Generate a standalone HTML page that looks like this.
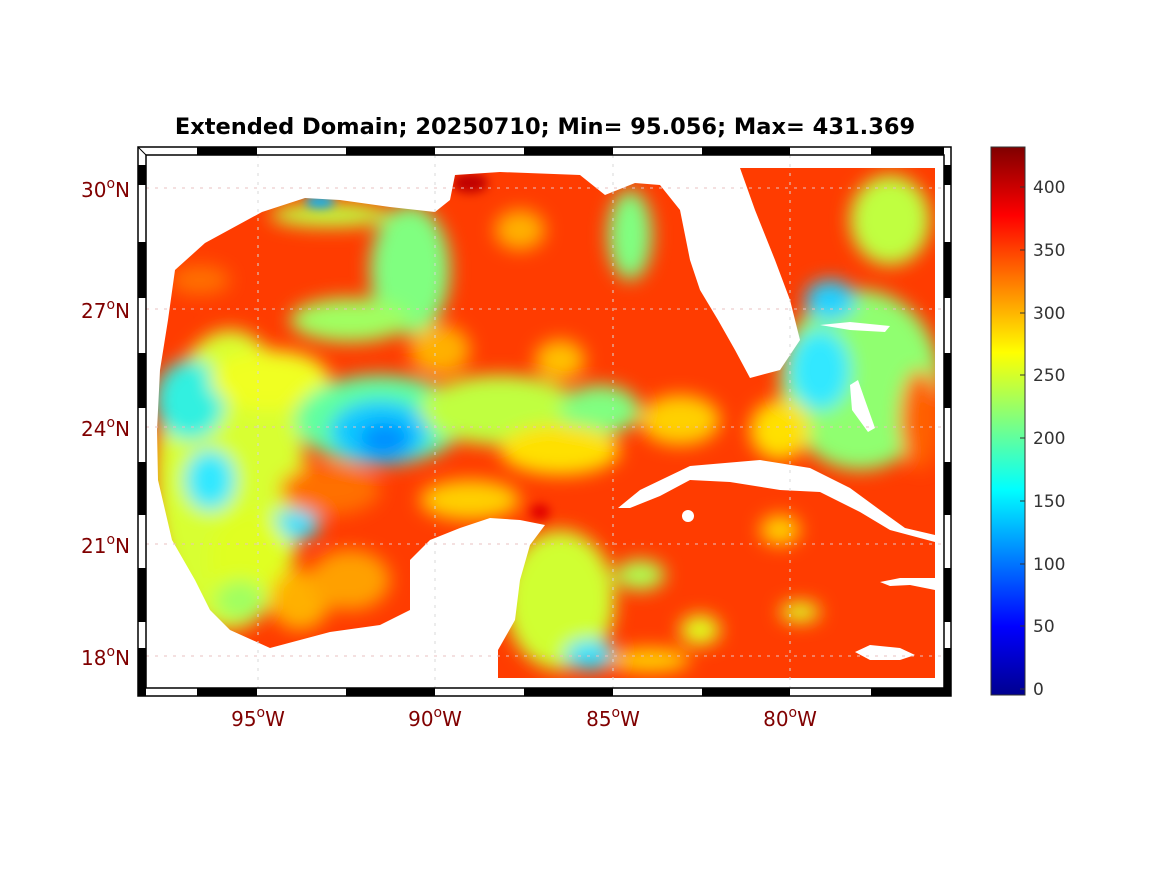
<!DOCTYPE html>
<html><head><meta charset="utf-8"><style>
body{margin:0;background:#fff;}
svg text{font-family:"DejaVu Sans","Liberation Sans",sans-serif;}
</style></head><body>
<svg width="1167" height="875" viewBox="0 0 1167 875" xmlns="http://www.w3.org/2000/svg">
<defs>
<filter id="b" x="-20%" y="-20%" width="140%" height="140%"><feGaussianBlur stdDeviation="9"/></filter>
<filter id="b2" x="-20%" y="-20%" width="140%" height="140%"><feGaussianBlur stdDeviation="5"/></filter>
<clipPath id="c"><rect x="146" y="155" width="798" height="533"/></clipPath>
<linearGradient id="jet" x1="0" y1="1" x2="0" y2="0">
<stop offset="0" stop-color="#00008f"/><stop offset="0.125" stop-color="#0000ff"/>
<stop offset="0.375" stop-color="#00ffff"/><stop offset="0.625" stop-color="#ffff00"/>
<stop offset="0.875" stop-color="#ff0000"/><stop offset="1" stop-color="#800000"/>
</linearGradient>
</defs>
<text x="545" y="134" font-size="22.5" font-weight="bold" text-anchor="middle">Extended Domain; 20250710; Min= 95.056; Max= 431.369</text>
<g clip-path="url(#c)">
<rect x="146" y="155" width="798" height="533" fill="#ff3c00"/>
<g filter="url(#b)">
<ellipse cx="230" cy="480" rx="75" ry="150" fill="#d8ff30"/>
<ellipse cx="190" cy="400" rx="35" ry="40" fill="#30f0e0"/>
<ellipse cx="210" cy="480" rx="25" ry="30" fill="#30e8ff"/>
<ellipse cx="295" cy="525" rx="25" ry="15" fill="#30e0ff"/>
<ellipse cx="250" cy="560" rx="40" ry="50" fill="#e0ff20"/>
<ellipse cx="300" cy="600" rx="30" ry="30" fill="#ffb000"/>
<ellipse cx="350" cy="580" rx="40" ry="30" fill="#ffa000"/>
<ellipse cx="330" cy="490" rx="50" ry="25" fill="#ff7000"/>
<ellipse cx="270" cy="380" rx="60" ry="30" fill="#f0ff20"/>
<ellipse cx="240" cy="600" rx="25" ry="20" fill="#a0ff60"/>
<ellipse cx="410" cy="270" rx="40" ry="65" fill="#80ff80"/>
<ellipse cx="330" cy="215" rx="60" ry="12" fill="#c0ff40"/>
<ellipse cx="350" cy="320" rx="60" ry="22" fill="#a0ff60"/>
<ellipse cx="200" cy="280" rx="30" ry="15" fill="#ff7000"/>
<ellipse cx="380" cy="420" rx="85" ry="45" fill="#60ffa0"/>
<ellipse cx="380" cy="432" rx="50" ry="32" fill="#10c8ff"/>
<ellipse cx="385" cy="440" rx="25" ry="18" fill="#0090ff"/>
<ellipse cx="500" cy="410" rx="80" ry="35" fill="#c0ff40"/>
<ellipse cx="600" cy="410" rx="40" ry="25" fill="#80ff80"/>
<ellipse cx="560" cy="450" rx="60" ry="25" fill="#ffe000"/>
<ellipse cx="470" cy="500" rx="50" ry="20" fill="#ffd000"/>
<ellipse cx="440" cy="350" rx="30" ry="25" fill="#ffb000"/>
<ellipse cx="630" cy="235" rx="22" ry="45" fill="#80ff80"/>
<ellipse cx="560" cy="360" rx="25" ry="20" fill="#ffc000"/>
<ellipse cx="680" cy="420" rx="40" ry="25" fill="#ffd000"/>
<ellipse cx="520" cy="230" rx="25" ry="20" fill="#ffb000"/>
<ellipse cx="860" cy="380" rx="80" ry="90" fill="#90ff70"/>
<ellipse cx="820" cy="370" rx="30" ry="40" fill="#30e8ff"/>
<ellipse cx="830" cy="300" rx="25" ry="20" fill="#20d0ff"/>
<ellipse cx="890" cy="220" rx="40" ry="45" fill="#c0ff40"/>
<ellipse cx="920" cy="420" rx="20" ry="50" fill="#ff6000"/>
<ellipse cx="780" cy="430" rx="30" ry="30" fill="#ffe000"/>
<ellipse cx="560" cy="600" rx="55" ry="70" fill="#d0ff30"/>
<ellipse cx="590" cy="655" rx="25" ry="15" fill="#30e0ff"/>
<ellipse cx="640" cy="575" rx="25" ry="15" fill="#b0ff50"/>
<ellipse cx="700" cy="630" rx="20" ry="15" fill="#e0ff20"/>
<ellipse cx="800" cy="612" rx="20" ry="10" fill="#e0ff20"/>
<ellipse cx="780" cy="530" rx="20" ry="15" fill="#ffd000"/>
<ellipse cx="650" cy="660" rx="40" ry="12" fill="#ffd000"/>
</g>
<g filter="url(#b2)">
<ellipse cx="470" cy="183" rx="18" ry="10" fill="#c00000"/>
<ellipse cx="320" cy="202" rx="15" ry="6" fill="#00b0ff"/>
<ellipse cx="540" cy="512" rx="10" ry="8" fill="#e00000"/>
</g>
<g fill="#fff">
<polygon points="146,155 455,155 455,175 450,200 435,212 390,207 340,200 305,198 262,212 205,243 175,270 168,320 160,370 157,430 158,480 172,540 195,580 210,610 230,630 270,648 300,640 330,632 380,625 410,610 410,560 430,540 460,528 490,518 520,520 545,525 530,545 520,580 515,620 498,650 498,688 146,688"/>
<polygon points="455,155 740,155 740,168 755,210 775,260 790,300 800,340 780,370 750,378 735,350 718,320 700,290 690,260 680,210 660,185 635,183 605,195 580,175 500,172 455,175"/>
<rect x="740" y="155" width="204" height="13"/>
<rect x="935" y="155" width="9" height="533"/>
<rect x="498" y="678" width="446" height="10"/>
<polygon points="618,508 640,490 690,466 760,460 810,468 850,488 880,510 905,528 935,535 935,542 890,530 860,512 820,492 780,490 730,482 690,480 660,496 630,508"/>
<polygon points="880,582 900,578 935,578 935,590 910,585 890,586"/>
<polygon points="855,652 870,645 900,648 915,655 900,660 870,660"/>
<ellipse cx="688" cy="516" rx="6" ry="6"/>
<polygon points="820,325 850,322 890,326 885,332 850,330"/>
<polygon points="850,385 858,380 865,400 875,428 868,432 852,410"/>
</g>
</g>
<g stroke-dasharray="3,6" stroke-width="1">
<g stroke="#e8c0c0"><line x1="146" y1="188" x2="944" y2="188"/><line x1="146" y1="309" x2="944" y2="309"/><line x1="146" y1="427" x2="944" y2="427"/><line x1="146" y1="544" x2="944" y2="544"/><line x1="146" y1="656" x2="944" y2="656"/></g>
<g stroke="#d8d8d8"><line x1="258" y1="155" x2="258" y2="688"/><line x1="435" y1="155" x2="435" y2="688"/><line x1="613" y1="155" x2="613" y2="688"/><line x1="790" y1="155" x2="790" y2="688"/></g>
</g>
<rect x="138" y="147" width="813" height="549" fill="none" stroke="#000" stroke-width="1.5"/>
<rect x="146" y="155" width="798" height="533" fill="none" stroke="#000" stroke-width="1.5"/>
<g fill="#000">
<rect x="197" y="147" width="60" height="8"/><rect x="346" y="147" width="89" height="8"/><rect x="524" y="147" width="89" height="8"/><rect x="702" y="147" width="88" height="8"/><rect x="871" y="147" width="73" height="8"/>
<rect x="197" y="688" width="60" height="8"/><rect x="346" y="688" width="89" height="8"/><rect x="524" y="688" width="89" height="8"/><rect x="702" y="688" width="88" height="8"/><rect x="871" y="688" width="73" height="8"/>
<rect x="138" y="165" width="8" height="20"/><rect x="138" y="242" width="8" height="56"/><rect x="138" y="353" width="8" height="55"/><rect x="138" y="462" width="8" height="53"/><rect x="138" y="568" width="8" height="54"/><rect x="138" y="648" width="8" height="48"/>
<rect x="944" y="165" width="7" height="20"/><rect x="944" y="242" width="7" height="56"/><rect x="944" y="353" width="7" height="55"/><rect x="944" y="462" width="7" height="53"/><rect x="944" y="568" width="7" height="54"/><rect x="944" y="648" width="7" height="48"/>
</g>
<line x1="138" y1="147" x2="146" y2="155" stroke="#000"/><line x1="951" y1="696" x2="944" y2="688" stroke="#000"/>
<g fill="#800000" font-size="20">
<text x="130" y="197" text-anchor="end">30<tspan dy="-9" font-size="14">o</tspan><tspan dy="9">N</tspan></text>
<text x="130" y="318" text-anchor="end">27<tspan dy="-9" font-size="14">o</tspan><tspan dy="9">N</tspan></text>
<text x="130" y="436" text-anchor="end">24<tspan dy="-9" font-size="14">o</tspan><tspan dy="9">N</tspan></text>
<text x="130" y="553" text-anchor="end">21<tspan dy="-9" font-size="14">o</tspan><tspan dy="9">N</tspan></text>
<text x="130" y="665" text-anchor="end">18<tspan dy="-9" font-size="14">o</tspan><tspan dy="9">N</tspan></text>
<text x="258" y="726" text-anchor="middle">95<tspan dy="-9" font-size="14">o</tspan><tspan dy="9">W</tspan></text>
<text x="435" y="726" text-anchor="middle">90<tspan dy="-9" font-size="14">o</tspan><tspan dy="9">W</tspan></text>
<text x="613" y="726" text-anchor="middle">85<tspan dy="-9" font-size="14">o</tspan><tspan dy="9">W</tspan></text>
<text x="790" y="726" text-anchor="middle">80<tspan dy="-9" font-size="14">o</tspan><tspan dy="9">W</tspan></text>
</g>
<rect x="991" y="147" width="34" height="548" fill="url(#jet)" stroke="#333" stroke-width="1"/>
<g fill="#333" font-size="17">
<text x="1033" y="695">0</text><text x="1033" y="632">50</text><text x="1033" y="570">100</text><text x="1033" y="507">150</text><text x="1033" y="444">200</text><text x="1033" y="381">250</text><text x="1033" y="319">300</text><text x="1033" y="256">350</text><text x="1033" y="193">400</text>
</g>
<g stroke="#333"><line x1="1020" y1="689" x2="1025" y2="689"/><line x1="1020" y1="626" x2="1025" y2="626"/><line x1="1020" y1="564" x2="1025" y2="564"/><line x1="1020" y1="501" x2="1025" y2="501"/><line x1="1020" y1="438" x2="1025" y2="438"/><line x1="1020" y1="375" x2="1025" y2="375"/><line x1="1020" y1="313" x2="1025" y2="313"/><line x1="1020" y1="250" x2="1025" y2="250"/><line x1="1020" y1="187" x2="1025" y2="187"/></g>
</svg>
</body></html>
